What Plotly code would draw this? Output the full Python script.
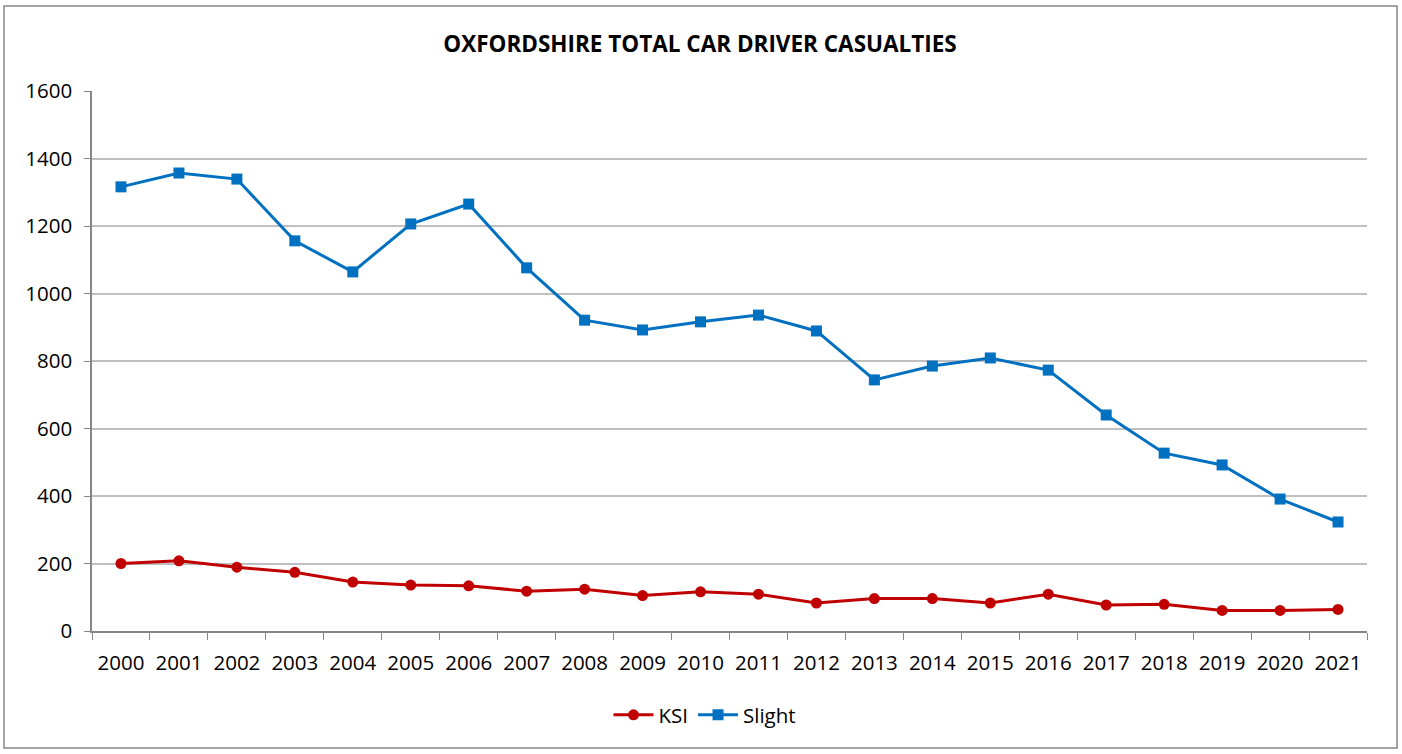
import plotly.graph_objects as go

years = [str(y) for y in range(2000, 2022)]
ksi = [200, 208, 189, 174, 145, 136, 134, 118, 124, 105, 116, 109, 83, 96, 96, 83, 109, 77, 79, 61, 61, 64]
slight = [1316, 1357, 1339, 1156, 1064, 1206, 1265, 1076, 921, 892, 916, 936, 889, 744, 785, 809, 773, 640, 527, 492, 391, 323]

W, H = 1402, 754
L, R, T, B = 92, 35, 91, 123
pw, ph = W - L - R, H - T - B

def px_x(x):
    return (x - L) / pw

def px_y(y):
    return (H - B - y) / ph

font_family = "Open Sans, Liberation Sans, Arial, sans-serif"

fig = go.Figure()
fig.add_trace(go.Scatter(
    x=years, y=ksi, name="KSI", mode="lines+markers",
    line=dict(color="#C00000", width=3),
    marker=dict(symbol="circle", size=11, color="#C00000"),
))
fig.add_trace(go.Scatter(
    x=years, y=slight, name="Slight", mode="lines+markers",
    line=dict(color="#0070C0", width=3),
    marker=dict(symbol="square", size=11, color="#0070C0"),
))

fig.update_layout(
    width=W, height=H,
    margin=dict(l=L, r=R, t=T, b=B),
    paper_bgcolor="white", plot_bgcolor="white",
    font=dict(family=font_family, size=20.5, color="black"),
    title=dict(text="<b>OXFORDSHIRE TOTAL CAR DRIVER CASUALTIES</b>",
               xref="container", x=700 / W, xanchor="center",
               y=1 - 44 / H, yanchor="middle",
               font=dict(size=22.5, color="black")),
    showlegend=True,
    legend=dict(orientation="h", x=px_x(705), xanchor="center",
                y=px_y(715), yanchor="middle",
                font=dict(size=20.5), itemwidth=40, bgcolor="rgba(0,0,0,0)"),
    xaxis=dict(
        type="category", range=[-0.5, 21.5],
        tickson="boundaries", ticks="outside", ticklen=7, tickcolor="#868686",
        showline=True, linecolor="#868686", linewidth=1.5,
        showgrid=False, zeroline=False, ticklabelstandoff=13,
    ),
    yaxis=dict(
        range=[0, 1600], dtick=200, ticks="outside", ticklen=6, tickcolor="#868686",
        showline=True, linecolor="#868686", linewidth=1.5,
        showgrid=True, gridcolor="#BFBFBF", gridwidth=1.5, zeroline=False,
        ticklabelstandoff=8,
    ),
    shapes=[dict(type="rect", xref="paper", yref="paper",
                 x0=px_x(4), x1=px_x(1397), y0=px_y(748), y1=px_y(6),
                 line=dict(color="#868686", width=1.5), fillcolor="rgba(0,0,0,0)",
                 layer="below")],
)

fig.write_html("out.html", post_script="document.body.style.margin='0';",
               config={"displayModeBar": False})
